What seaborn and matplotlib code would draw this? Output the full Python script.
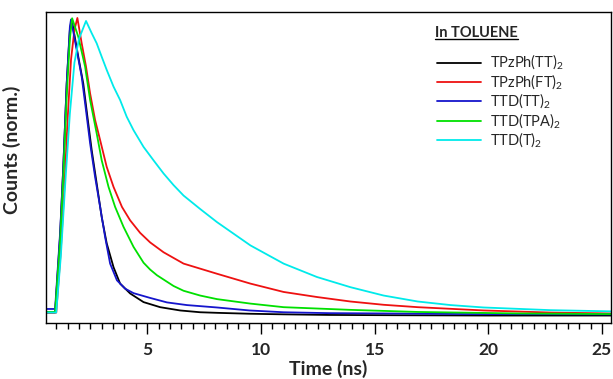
import matplotlib
matplotlib.use("Agg")
import matplotlib.pyplot as plt
import seaborn as sns
import pandas as pd
from matplotlib.ticker import MultipleLocator, NullLocator
from matplotlib.lines import Line2D

# ---- data (time in ns, normalised counts) ----
names = ["TPzPh(TT)$_2$", "TPzPh(FT)$_2$", "TTD(TT)$_2$", "TTD(TPA)$_2$", "TTD(T)$_2$"]
colors = ["#000000", "#ee1111", "#1515cc", "#00e000", "#00eaea"]

t_black = [0.55, 0.95, 1.17, 1.31, 1.46, 1.6, 1.68, 1.97, 2.19, 2.37, 2.56, 2.78, 3.0, 3.22,
           3.52, 3.81, 4.25, 4.84, 5.57, 6.45, 7.33, 8.1, 9.5, 11, 13, 16, 20, 25.4]
v_black = [0.013, 0.013, 0.27, 0.5, 0.78, 0.96, 0.995, 0.87, 0.78, 0.67, 0.557, 0.445, 0.333, 0.245,
           0.165, 0.11, 0.077, 0.048, 0.031, 0.02, 0.014, 0.012, 0.009, 0.007, 0.005, 0.004, 0.003, 0.003]

t_red = [0.55, 1.0, 1.2, 1.35, 1.5, 1.65, 1.8, 1.93, 2.12, 2.31, 2.49, 2.71, 2.93, 3.22, 3.52, 3.89,
         4.25, 4.69, 5.13, 5.72, 6.6, 8.07, 9.54, 11, 12.47, 13.94, 15.4, 16.9, 19.8, 22.75, 25.4]
v_red = [0.013, 0.013, 0.22, 0.42, 0.66, 0.86, 0.96, 1.0, 0.915, 0.837, 0.747, 0.658, 0.591, 0.501,
         0.434, 0.367, 0.322, 0.28, 0.248, 0.215, 0.177, 0.143, 0.11, 0.082, 0.065, 0.05, 0.039,
         0.031, 0.02, 0.013, 0.01]

t_blue = [0.55, 0.95, 1.17, 1.31, 1.46, 1.6, 1.65, 1.9, 2.12, 2.31, 2.49, 2.71, 2.93, 3.15, 3.37,
          3.67, 4.03, 4.4, 5.13, 5.87, 6.75, 8.07, 9.5, 11, 13, 15.4, 19, 25.4]
v_blue = [0.025, 0.025, 0.28, 0.5, 0.78, 0.97, 0.995, 0.893, 0.803, 0.69, 0.58, 0.467, 0.367, 0.266,
          0.177, 0.121, 0.093, 0.078, 0.062, 0.047, 0.038, 0.03, 0.02, 0.014, 0.011, 0.01, 0.008, 0.007]

t_green = [0.55, 0.95, 1.17, 1.31, 1.46, 1.6, 1.7, 1.97, 2.27, 2.49, 2.78, 3.0, 3.3, 3.59, 3.96, 4.4,
           4.84, 5.13, 5.43, 6.16, 6.6, 7.33, 8.07, 9.54, 11, 13.94, 16.9, 21.3, 25.4]
v_green = [0.015, 0.015, 0.25, 0.47, 0.74, 0.93, 0.999, 0.937, 0.837, 0.725, 0.613, 0.523, 0.434,
           0.367, 0.3, 0.233, 0.18, 0.157, 0.138, 0.102, 0.086, 0.07, 0.058, 0.043, 0.031, 0.022,
           0.015, 0.01, 0.008]

t_cyan = [0.55, 1.0, 1.2, 1.4, 1.6, 1.8, 2.0, 2.31, 2.56, 2.78, 3.0, 3.22, 3.52, 3.81, 4.1, 4.4, 4.84,
          5.28, 5.72, 6.16, 6.6, 7.33, 8.07, 9.54, 11, 12.47, 13.94, 15.4, 16.9, 18.35, 19.8, 22.75, 25.4]
v_cyan = [0.013, 0.013, 0.2, 0.45, 0.68, 0.85, 0.93, 0.99, 0.949, 0.915, 0.87, 0.826, 0.77, 0.725,
          0.669, 0.624, 0.568, 0.523, 0.479, 0.44, 0.405, 0.36, 0.316, 0.238, 0.177, 0.132, 0.098,
          0.07, 0.05, 0.038, 0.03, 0.021, 0.017]

xticks = [5, 10, 15, 20, 25]
legend_title = "In TOLUENE"

series = [(t_black, v_black), (t_red, v_red), (t_blue, v_blue), (t_green, v_green), (t_cyan, v_cyan)]

sns.set_style("white")
plt.rcParams["font.family"] = ["Lato", "DejaVu Sans"]
plt.rcParams["mathtext.fontset"] = "custom"
plt.rcParams["mathtext.rm"] = "Lato"

fig = plt.figure(figsize=(6.13, 3.79), dpi=100)
ax = fig.add_axes([46 / 613, 1 - 322.7 / 379, 565 / 613, 310.7 / 379])

for (t, v), name, c in zip(series, names, colors):
    df = pd.DataFrame({"t": t, "v": v})
    sns.lineplot(data=df, x="t", y="v", ax=ax, color=c, lw=1.3, label=name,
                 sort=False, estimator=None)

ax.set_xlim(0.55, 25.4)
ax.set_ylim(-0.021, 1.02)
ax.xaxis.set_minor_locator(MultipleLocator(0.5))
ax.yaxis.set_major_locator(NullLocator())
ax.set_xticks(xticks)
ax.tick_params(axis="x", which="major", direction="out", length=8, width=1.0, bottom=True,
               labelsize=12.5, pad=6, color="black")
ax.tick_params(axis="x", which="minor", direction="out", length=4, width=1.0, bottom=True,
               color="black")
for lbl in ax.get_xticklabels():
    lbl.set_fontweight("bold")

for s in ax.spines.values():
    s.set_color("black")
    s.set_linewidth(1.0)

ax.set_xlabel("Time (ns)", fontsize=14, fontweight="bold", labelpad=1)
ax.set_ylabel("Counts (norm.)", fontsize=14, fontweight="bold")
ax.yaxis.set_label_coords(-0.044, 0.556)

# legend (entries) below a separate underlined title
leg = ax.legend(loc="upper left", bbox_to_anchor=((437 - 46) / 565, (322.7 - 53) / 310.7),
                frameon=False, fontsize=10.5, handlelength=3.0, handletextpad=0.6,
                labelspacing=0.0, borderpad=0, borderaxespad=0)
for h in leg.get_lines():
    h.set_linewidth(1.3)

title = fig.text(435 / 613, 1 - 33 / 379, legend_title, fontsize=10.5, fontweight="bold",
                 ha="left", va="center")
fig.canvas.draw()
bb = title.get_window_extent().transformed(fig.transFigure.inverted())
fig.add_artist(Line2D([bb.x0, bb.x1], [bb.y0 + 0.003, bb.y0 + 0.003], transform=fig.transFigure,
                      color="black", lw=1.0))

fig.savefig("out.png", dpi=100)
